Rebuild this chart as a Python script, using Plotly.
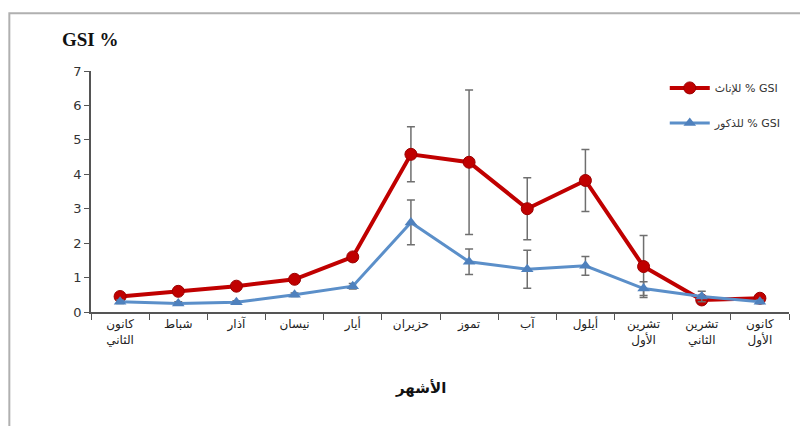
import plotly.graph_objects as go

months = ["كانون<br>الثاني", "شباط", "آذار", "نيسان", "أيار", "حزيران", "تموز",
          "آب", "أيلول", "تشرين<br>الأول", "تشرين<br>الثاني", "كانون<br>الأول"]
female = [0.45, 0.6, 0.75, 0.95, 1.6, 4.58, 4.35, 3.0, 3.82, 1.32, 0.35, 0.4]
female_err = [0.05, 0.05, 0.05, 0.05, 0.08, 0.8, 2.1, 0.9, 0.9, 0.9, 0.1, 0.05]
male = [0.3, 0.25, 0.28, 0.5, 0.75, 2.6, 1.46, 1.24, 1.34, 0.68, 0.45, 0.3]
male_err = [0.05, 0.05, 0.05, 0.05, 0.08, 0.65, 0.37, 0.55, 0.27, 0.2, 0.15, 0.05]

fig = go.Figure()
fig.add_trace(go.Scatter(
    x=months, y=female, name="للإناث % GSI", mode="lines+markers", legendgroup="f",
    line=dict(color="#C00000", width=4),
    marker=dict(symbol="circle", size=12, color="#C00000",
                line=dict(color="#9b0000", width=1)),
    error_y=dict(type="data", array=female_err, color="#6f6f6f", thickness=1.5, width=4),
))
fig.add_trace(go.Scatter(
    x=months, y=male, name="للذكور % GSI", mode="lines+markers", legendgroup="m",
    line=dict(color="#5B8FC9", width=3),
    marker=dict(symbol="triangle-up", size=11, color="#4F81BD"),
    error_y=dict(type="data", array=male_err, color="#6f6f6f", thickness=1.5, width=4),
))

fig.update_layout(
    width=800, height=426,
    margin=dict(l=91, r=11, t=71, b=114, autoexpand=False),
    paper_bgcolor="white", plot_bgcolor="white",
    font=dict(family="DejaVu Sans", color="#333333"),
    showlegend=True,
    legend=dict(x=0.822, y=0.99, xanchor="left", yanchor="top",
                font=dict(size=11, color="#333333"), bgcolor="rgba(0,0,0,0)",
                tracegroupgap=16, itemwidth=40),
    shapes=[dict(type="rect", xref="paper", yref="paper",
                 x0=-0.117, x1=1.3, y0=-0.5, y1=1.24,
                 line=dict(color="#b0b0b0", width=2), fillcolor="rgba(0,0,0,0)",
                 layer="below")],
    annotations=[
        dict(text="<b>GSI %</b>", xref="paper", yref="paper", x=-0.044, y=1.08,
             xanchor="left", yanchor="bottom", showarrow=False,
             font=dict(family="Liberation Serif", size=19, color="#111111")),
        dict(text="<b>الأشهر</b>", xref="paper", yref="paper", x=0.472, y=-0.27,
             xanchor="center", yanchor="top", showarrow=False,
             font=dict(family="DejaVu Sans", size=15, color="#111111")),
    ],
)
fig.update_xaxes(
    type="category", range=[-0.5, 11.5], showline=True, linecolor="#555555", linewidth=1.5,
    ticks="outside", tickson="boundaries", ticklen=6, tickcolor="#555555", automargin=False,
    showgrid=False, tickfont=dict(size=12, color="#222222"),
)
fig.update_yaxes(
    range=[0, 7], dtick=1, showline=True, linecolor="#555555", linewidth=1.5,
    ticks="outside", ticklen=5, tickcolor="#555555", showgrid=False, zeroline=False,
    automargin=False, tickfont=dict(size=13, color="#333333"),
)
fig.write_html("out.html")
